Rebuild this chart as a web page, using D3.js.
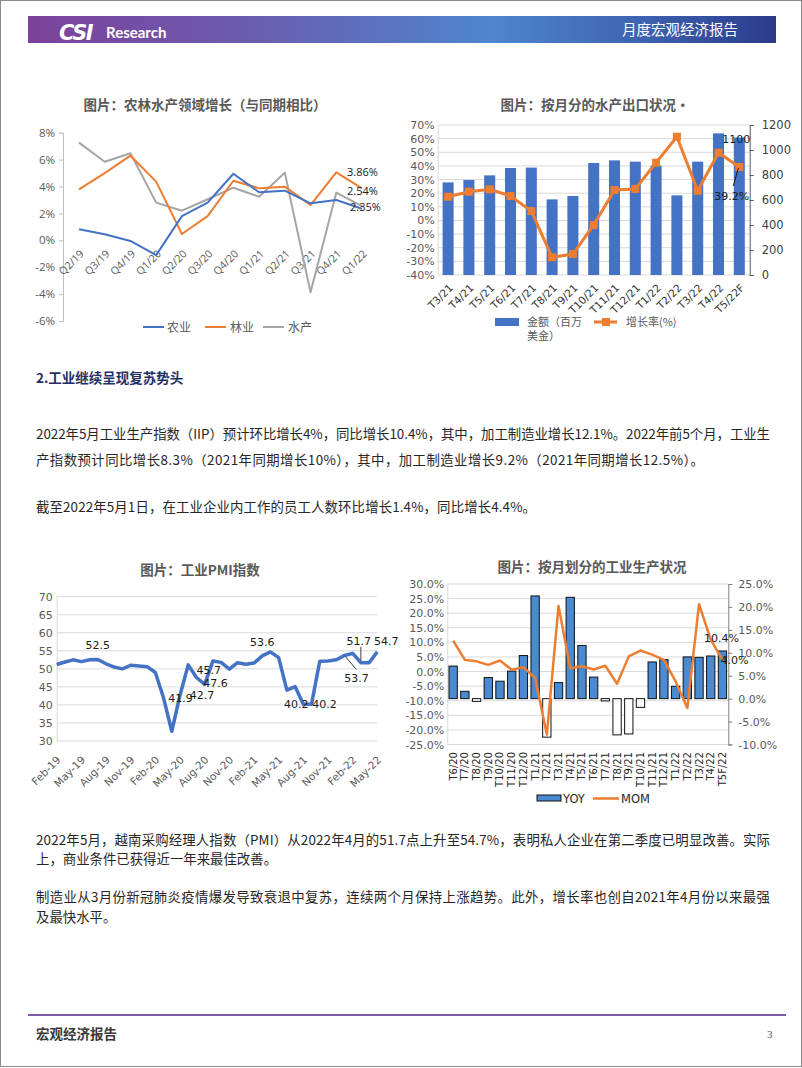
<!DOCTYPE html>
<html><head><meta charset="utf-8">
<script src="https://cdn.jsdelivr.net/npm/d3@7"></script>
<style>
html,body{margin:0;padding:0;background:#fff;}
svg{display:block;}
</style></head><body>
<svg id="page" width="802" height="1068"></svg>
<script>
// ---------- DATA ----------
// Chart 1: 农林水产领域增长
const quarterCats = ["Q2/19","Q3/19","Q4/19","Q1/20","Q2/20","Q3/20","Q4/20","Q1/21","Q2/21","Q3/21","Q4/21","Q1/22"];
const agriGrowth   = [0.82, 0.45, -0.05, -1.1, 1.8, 2.8, 4.95, 3.57, 3.69, 2.75, 3.0, 2.35];
const forestGrowth = [3.79, 5.0, 6.29, 4.36, 0.47, 1.8, 4.43, 3.87, 3.99, 2.62, 5.05, 3.86];
const fishGrowth   = [7.26, 5.84, 6.47, 2.8, 2.2, 3.05, 3.91, 3.24, 5.03, -3.87, 3.54, 2.54];
const growthTicks  = [-6, -4, -2, 0, 2, 4, 6, 8];
const seriesNames1 = ["农业", "林业", "水产"];

// Chart 2: 按月分的水产出口状况
const exportCats   = ["T3/21","T4/21","T5/21","T6/21","T7/21","T8/21","T9/21","T10/21","T11/21","T12/21","T1/22","T2/22","T3/22","T4/22","T5/22F"];
const exportValue  = [741, 760, 797, 856, 859, 605, 632, 896, 917, 907, 875, 637, 907, 1133, 1100];
const exportGrowth = [17.4, 21.1, 22.8, 17.9, 6.9, -27, -24.6, -3.3, 22.3, 23.1, 42.4, 61.4, 21.8, 49.7, 39.2];
const exportPctTicks = [-40,-30,-20,-10,0,10,20,30,40,50,60,70];
const exportValTicks = [0,200,400,600,800,1000,1200];

// Chart 3: 工业PMI指数
const pmiMonths = ["Feb-19","Mar-19","Apr-19","May-19","Jun-19","Jul-19","Aug-19","Sep-19","Oct-19","Nov-19","Dec-19",
  "Jan-20","Feb-20","Mar-20","Apr-20","May-20","Jun-20","Jul-20","Aug-20","Sep-20","Oct-20","Nov-20","Dec-20",
  "Jan-21","Feb-21","Mar-21","Apr-21","May-21","Jun-21","Jul-21","Aug-21","Sep-21","Oct-21","Nov-21","Dec-21",
  "Jan-22","Feb-22","Mar-22","Apr-22","May-22"];
const pmiValues = [51.2,51.9,52.5,52.0,52.5,52.6,51.4,50.5,50.0,51.0,50.8,
  50.6,49.0,41.9,32.7,42.7,51.1,47.6,45.7,52.2,51.8,49.9,51.7,
  51.3,51.6,53.6,54.7,53.1,44.1,45.1,40.2,40.2,52.1,52.2,52.5,
  53.7,54.3,51.7,51.7,54.7];
const pmiTickLabels = ["Feb-19","May-19","Aug-19","Nov-19","Feb-20","May-20","Aug-20","Nov-20","Feb-21","May-21","Aug-21","Nov-21","Feb-22","May-22"];
const pmiYTicks = [30,35,40,45,50,55,60,65,70];
const pmiLabelMonths = ["Jul-19","Mar-20","May-20","Aug-20","Jul-20","Mar-21","Aug-21","Sep-21","Mar-22","May-22","Jan-22"];
const pmiLabelTexts  = ["52.5","41.9","42.7","45.7","47.6","53.6","40.2","40.2","51.7","54.7","53.7"];

// Chart 4: 按月划分的工业生产状况
const ipCats = ["T6/20","T7/20","T8/20","T9/20","T10/20","T11/20","T12/20","T1/21","T2/21","T3/21","T4/21","T5/21",
  "T6/21","T7/21","T8/21","T9/21","T10/21","T11/21","T12/21","T1/22","T2/22","T3/22","T4/22","T5F/22"];
const ipYoY = [7.1,1.6,-0.6,4.6,3.8,6.0,9.4,22.4,-8.4,3.5,22.1,11.6,4.7,-0.5,-7.9,-7.7,-1.9,8.0,8.5,2.7,9.1,9.0,9.3,10.4];
const ipMoM = [10.6,4.0,3.5,2.3,3.8,0.6,1.5,-2.2,-21.6,22.5,1.1,1.8,0.7,2.0,-4.2,5.2,7.2,5.8,4.0,-3.4,-12.5,23.1,10.9,4.0];
const ipLeftTicks  = [-25,-20,-15,-10,-5,0,5,10,15,20,25,30];
const ipRightTicks = [-10,-5,0,5,10,15,20,25];

// ---------- HELPERS ----------
const svg = d3.select("#page");
const CJK = "'Noto Sans CJK SC','Noto Sans',sans-serif";
const NUM = "'DejaVu Sans',sans-serif";
const C_BLUE = "#4472C4", C_ORANGE = "#ED7D31", C_GRAY = "#A5A5A5", C_GRID = "#d9d9d9", C_TXT = "#595959";

function txt(x, y, s, o = {}) {
  const t = svg.append("text").attr("x", x).attr("y", y).text(s)
    .attr("font-family", o.ff || CJK).attr("font-size", o.fs || 13)
    .attr("fill", o.fill || "#262626").attr("font-weight", o.fw || 400)
    .attr("text-anchor", o.anchor || "start");
  if (o.len) t.attr("textLength", o.len).attr("lengthAdjust", "spacing");
  return t;
}
function styleAxis(g, fs, lineColor, tickColor) {
  g.selectAll("text").attr("font-family", NUM).attr("font-size", fs).attr("fill", C_TXT);
  g.select(".domain").attr("stroke", lineColor);
  g.selectAll(".tick line").attr("stroke", tickColor || lineColor);
}

// ---------- PAGE FRAME ----------
svg.append("rect").attr("x", 0.5).attr("y", 0.5).attr("width", 801).attr("height", 1066)
  .attr("fill", "none").attr("stroke", "#8a8a8a");
const defs = svg.append("defs");
const grad = defs.append("linearGradient").attr("id", "hdr").attr("x1", "0").attr("x2", "1").attr("y1", "0").attr("y2", "0");
[["0%","#7c419a"],["30%","#6a5db0"],["62%","#4f85cf"],["82%","#3d63b0"],["100%","#2b3b8c"]]
  .forEach(([o,c]) => grad.append("stop").attr("offset", o).attr("stop-color", c));
svg.append("rect").attr("x", 28).attr("y", 16).attr("width", 748).attr("height", 27).attr("fill", "url(#hdr)");
txt(59, 40, "CSI", {ff: "'DejaVu Sans',sans-serif", fs: 21, fw: 900, fill: "#fff"}).attr("font-style", "italic").attr("letter-spacing", -1.5);
txt(106, 38, "Research", {ff: "Lato,sans-serif", fs: 15, fw: 700, fill: "#fff"});
txt(622, 35, "月度宏观经济报告", {fs: 14.5, fill: "#fff"});

svg.append("line").attr("x1", 28).attr("x2", 786).attr("y1", 1015).attr("y2", 1015)
  .attr("stroke", "#7e57a8").attr("stroke-width", 2);
txt(36, 1039, "宏观经济报告", {fs: 13.5, fw: 700, fill: "#3a3a3a"});
txt(767, 1038, "3", {ff: "'Liberation Serif',serif", fs: 11, fill: "#595959"});

// ---------- CHART 1 ----------
(function(){
  const x = d3.scalePoint().domain(quarterCats).range([79, 362]);
  const y = d3.scaleLinear().domain([-6, 8]).range([321, 132.7]);
  txt(205, 110, "图片：农林水产领域增长（与同期相比）", {fs: 13.5, fw: 700, fill: C_TXT, anchor: "middle"});
  const ga = svg.append("g").attr("transform", "translate(63,0)")
    .call(d3.axisLeft(y).tickValues(growthTicks).tickSize(4).tickPadding(4).tickFormat(d => d + "%"));
  styleAxis(ga, 11, "#bfbfbf");
  ga.selectAll("text").attr("font-family", "'Open Sans',sans-serif").attr("font-size", 11.5);
  quarterCats.forEach(c => {
    svg.append("text").attr("transform", `translate(${x(c)+3},252) rotate(-45)`)
      .attr("text-anchor", "end").attr("dy", "0.35em")
      .attr("font-family", "'Open Sans',sans-serif").attr("font-size", 10.5).attr("fill", C_TXT).text(c);
  });
  const line = d3.line().x((d, i) => x(quarterCats[i])).y(d => y(d));
  [[fishGrowth, C_GRAY],[forestGrowth, C_ORANGE],[agriGrowth, C_BLUE]].forEach(([s, c]) => {
    svg.append("path").attr("d", line(s)).attr("fill", "none").attr("stroke", c)
      .attr("stroke-width", 2).attr("stroke-linejoin", "round");
  });
  const last = quarterCats.length - 1, lx = x(quarterCats[last]);
  const lab = (v, dx, dy) => txt(lx + dx, y(v) + dy, v.toFixed(2) + "%", {ff: "'Open Sans',sans-serif", fs: 11, fill: "#1a1a1a"});
  lab(forestGrowth[last], -15, -12);
  lab(fishGrowth[last], -15, -11.5);
  lab(agriGrowth[last], -12, 2);
  // legend
  const lg = [[C_BLUE, 143, 167],[C_ORANGE, 205, 230],[C_GRAY, 263, 288]];
  lg.forEach(([c, x0, tx], i) => {
    svg.append("line").attr("x1", x0).attr("x2", x0 + 21).attr("y1", 327).attr("y2", 327).attr("stroke", c).attr("stroke-width", 2);
    txt(tx, 332, seriesNames1[i], {fs: 12, fill: C_TXT});
  });
})();

// ---------- CHART 2 ----------
(function(){
  const x = d3.scaleBand().domain(exportCats).range([437.7, 749.7]).paddingInner(0.47).paddingOuter(0.235);
  const yL = d3.scaleLinear().domain([-40, 70]).range([275, 125]);
  const yR = d3.scaleLinear().domain([0, 1200]).range([275, 125]);
  txt(595, 110, "图片：按月分的水产出口状况·", {fs: 13.5, fw: 700, fill: C_TXT, anchor: "middle"});
  exportPctTicks.forEach(t => svg.append("line").attr("x1", 437.7).attr("x2", 749.7)
    .attr("y1", yL(t)).attr("y2", yL(t)).attr("stroke", C_GRID));
  const gl = svg.append("g").attr("transform", "translate(437.7,0)")
    .call(d3.axisLeft(yL).tickValues(exportPctTicks).tickSize(0).tickPadding(3).tickFormat(d => d + "%"));
  styleAxis(gl, 11, C_GRID);
  const gr = svg.append("g").attr("transform", "translate(749.7,0)")
    .call(d3.axisRight(yR).tickValues(exportValTicks).tickSize(4).tickPadding(8).tickFormat(d3.format("d")));
  styleAxis(gr, 11.5, "#595959");
  gr.selectAll("text").attr("fill", "#404040");
  svg.selectAll(".bar2").data(exportValue).join("rect")
    .attr("x", (d, i) => x(exportCats[i])).attr("width", x.bandwidth())
    .attr("y", d => yR(d)).attr("height", d => yR(0) - yR(d)).attr("fill", C_BLUE);
  const line = d3.line().x((d, i) => x(exportCats[i]) + x.bandwidth() / 2).y(d => yL(d));
  svg.append("path").attr("d", line(exportGrowth)).attr("fill", "none").attr("stroke", C_ORANGE).attr("stroke-width", 3);
  exportGrowth.forEach((d, i) => svg.append("rect")
    .attr("x", x(exportCats[i]) + x.bandwidth() / 2 - 4).attr("y", yL(d) - 4)
    .attr("width", 8).attr("height", 8).attr("fill", C_ORANGE));
  exportCats.forEach(c => {
    svg.append("text").attr("transform", `translate(${x(c) + x.bandwidth()/2 + 3},286) rotate(-45)`)
      .attr("text-anchor", "end").attr("dy", "0.35em")
      .attr("font-family", NUM).attr("font-size", 10.5).attr("fill", "#333").text(c);
  });
  const li = exportCats.length - 1, cx = x(exportCats[li]) + x.bandwidth() / 2;
  txt(cx + 11, yR(exportValue[li]) + 5, String(exportValue[li]), {ff: NUM, fs: 11, fill: "#1a1a1a", anchor: "end"});
  svg.append("line").attr("x1", cx - 1).attr("y1", yL(exportGrowth[li]) + 1)
    .attr("x2", cx - 6).attr("y2", yL(exportGrowth[li]) + 19).attr("stroke", "#1a1a1a").attr("stroke-width", 1);
  txt(cx + 10, yL(exportGrowth[li]) + 33, exportGrowth[li].toFixed(1) + "%", {ff: NUM, fs: 11, fill: "#1a1a1a", anchor: "end"});
  // legend
  svg.append("rect").attr("x", 495).attr("y", 318).attr("width", 24).attr("height", 8).attr("fill", C_BLUE);
  txt(527, 326, "金额（百万", {fs: 11, fill: C_TXT});
  txt(527, 340, "美金）", {fs: 11, fill: C_TXT});
  svg.append("line").attr("x1", 594).attr("x2", 617).attr("y1", 322).attr("y2", 322).attr("stroke", C_ORANGE).attr("stroke-width", 3);
  svg.append("rect").attr("x", 602).attr("y", 318).attr("width", 8).attr("height", 8).attr("fill", C_ORANGE);
  txt(626, 326, "增长率(%)", {fs: 11, fill: C_TXT});
})();

// ---------- TEXT BLOCK 1 ----------
txt(36, 383, "2.工业继续呈现复苏势头", {fs: 13.5, fw: 700, fill: "#1f2f66"});
txt(36, 439, "2022年5月工业生产指数（IIP）预计环比增长4%，同比增长10.4%，其中，加工制造业增长12.1%。2022年前5个月，工业生", {fs: 13.4, fill: "#262626", len: 734});
txt(36, 465, "产指数预计同比增长8.3%（2021年同期增长10%），其中，加工制造业增长9.2%（2021年同期增长12.5%）。", {fs: 13.4, fill: "#262626", len: 668});
txt(36, 512, "截至2022年5月1日，在工业企业内工作的员工人数环比增长1.4%，同比增长4.4%。", {fs: 13.4, fill: "#262626", len: 500});

// ---------- CHART 3 ----------
(function(){
  const x = d3.scalePoint().domain(pmiMonths).range([56.7, 377.3]);
  const y = d3.scaleLinear().domain([30, 70]).range([741, 596.7]);
  txt(200, 575, "图片：工业PMI指数", {fs: 13.5, fw: 700, fill: C_TXT, anchor: "middle"});
  pmiYTicks.forEach(t => svg.append("line").attr("x1", 56.7).attr("x2", 377.3)
    .attr("y1", y(t)).attr("y2", y(t)).attr("stroke", C_GRID));
  const ga = svg.append("g").attr("transform", "translate(56.7,0)")
    .call(d3.axisLeft(y).tickValues(pmiYTicks).tickSize(0).tickPadding(4));
  styleAxis(ga, 11, C_GRID);
  pmiTickLabels.forEach(c => {
    svg.append("text").attr("transform", `translate(${x(c) + 2},758) rotate(-45)`)
      .attr("text-anchor", "end").attr("dy", "0.35em")
      .attr("font-family", NUM).attr("font-size", 10.5).attr("fill", C_TXT).text(c);
  });
  const line = d3.line().x((d, i) => x(pmiMonths[i])).y(d => y(d));
  svg.append("path").attr("d", line(pmiValues)).attr("fill", "none").attr("stroke", C_BLUE)
    .attr("stroke-width", 3.5).attr("stroke-linejoin", "round");
  const off = {"Jul-19":[0,-14],"Mar-20":[17,0],"May-20":[22,0],"Aug-20":[4,-14],"Jul-20":[19,5],
    "Mar-21":[0,-14],"Aug-21":[-7,0],"Sep-21":[13,0],"Mar-22":[-2,-22],"May-22":[9,-11],"Jan-22":[12,22]};
  pmiLabelMonths.forEach((m, i) => {
    const v = pmiValues[pmiMonths.indexOf(m)];
    const [dx, dy] = off[m];
    txt(x(m) + dx, y(v) + dy + 4, pmiLabelTexts[i], {ff: NUM, fs: 11, fill: "#1a1a1a", anchor: "middle"});
  });
  const jx = x("Jan-22"), jy = y(pmiValues[pmiMonths.indexOf("Jan-22")]);
  svg.append("line").attr("x1", jx + 1).attr("y1", jy + 1).attr("x2", jx + 12).attr("y2", jy + 14).attr("stroke", "#404040");
  const mx = x("Mar-22"), my = y(pmiValues[pmiMonths.indexOf("Mar-22")]);
  svg.append("line").attr("x1", mx).attr("y1", my - 2).attr("x2", mx).attr("y2", my - 16).attr("stroke", "#404040");
})();

// ---------- CHART 4 ----------
(function(){
  const x = d3.scaleBand().domain(ipCats).range([447.3, 728.3]).paddingInner(0.29).paddingOuter(0.145);
  const yL = d3.scaleLinear().domain([-25, 30]).range([744.5, 584]);
  const yR = d3.scaleLinear().domain([-10, 25]).range([744.5, 584]);
  txt(592, 572, "图片：按月划分的工业生产状况", {fs: 13.5, fw: 700, fill: C_TXT, anchor: "middle"});
  ipLeftTicks.forEach(t => svg.append("line").attr("x1", 447.3).attr("x2", 728.3)
    .attr("y1", yL(t)).attr("y2", yL(t)).attr("stroke", C_GRID));
  const gl = svg.append("g").attr("transform", "translate(447.3,0)")
    .call(d3.axisLeft(yL).tickValues(ipLeftTicks).tickSize(0).tickPadding(3).tickFormat(d => d.toFixed(1) + "%"));
  styleAxis(gl, 11, C_GRID);
  const gr = svg.append("g").attr("transform", "translate(728.3,0)")
    .call(d3.axisRight(yR).tickValues(ipRightTicks).tickSize(4).tickPadding(6).tickFormat(d => d.toFixed(1) + "%"));
  styleAxis(gr, 11, "#7f7f7f");
  svg.selectAll(".bar4").data(ipYoY).join("rect")
    .attr("x", (d, i) => x(ipCats[i])).attr("width", x.bandwidth())
    .attr("y", d => Math.min(yR(d), yR(0))).attr("height", d => Math.abs(yR(d) - yR(0)))
    .attr("fill", d => d >= 0 ? "#4a8ad0" : "#ffffff").attr("stroke", "#111").attr("stroke-width", 1);
  const line = d3.line().x((d, i) => x(ipCats[i]) + x.bandwidth() / 2).y(d => yL(d));
  svg.append("path").attr("d", line(ipMoM)).attr("fill", "none").attr("stroke", C_ORANGE)
    .attr("stroke-width", 2.5).attr("stroke-linejoin", "round");
  ipCats.forEach(c => {
    svg.append("text").attr("transform", `translate(${x(c) + x.bandwidth()/2},752) rotate(-90)`)
      .attr("text-anchor", "end").attr("dy", "0.35em")
      .attr("font-family", NUM).attr("font-size", 10).attr("fill", "#262626").text(c);
  });
  const li = ipCats.length - 1, cx = x(ipCats[li]) + x.bandwidth() / 2;
  txt(cx - 1, yR(ipYoY[li]) - 9, ipYoY[li].toFixed(1) + "%", {ff: NUM, fs: 11, fill: "#1a1a1a", anchor: "middle"});
  txt(cx + 12, yL(ipMoM[li]) + 4, ipMoM[li].toFixed(1) + "%", {ff: NUM, fs: 11, fill: "#1a1a1a", anchor: "middle"});
  // legend
  svg.append("rect").attr("x", 537).attr("y", 795).attr("width", 24).attr("height", 6)
    .attr("fill", "#4a8ad0").attr("stroke", "#111");
  txt(563, 803, "YOY", {ff: NUM, fs: 11.5, fill: "#262626"});
  svg.append("line").attr("x1", 593).attr("x2", 619).attr("y1", 798.5).attr("y2", 798.5).attr("stroke", C_ORANGE).attr("stroke-width", 2.5);
  txt(621, 803, "MOM", {ff: NUM, fs: 11.5, fill: "#262626"});
})();

// ---------- TEXT BLOCK 2 ----------
txt(36, 845, "2022年5月，越南采购经理人指数（PMI）从2022年4月的51.7点上升至54.7%，表明私人企业在第二季度已明显改善。实际", {fs: 13.4, fill: "#262626", len: 734});
txt(36, 864, "上，商业条件已获得近一年来最佳改善。", {fs: 13.4, fill: "#262626"});
txt(36, 902, "制造业从3月份新冠肺炎疫情爆发导致衰退中复苏，连续两个月保持上涨趋势。此外，增长率也创自2021年4月份以来最强", {fs: 13.4, fill: "#262626", len: 734});
txt(36, 922, "及最快水平。", {fs: 13.4, fill: "#262626"});
</script></body></html>
